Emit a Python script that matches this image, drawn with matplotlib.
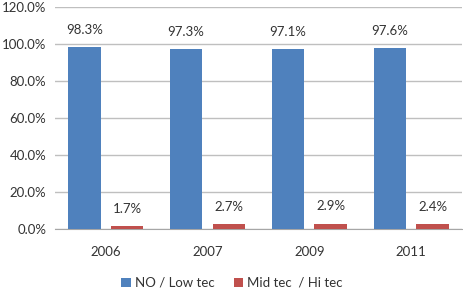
import numpy as np
import matplotlib.pyplot as plt

years = ["2006", "2007", "2009", "2011"]
low_tec = [98.3, 97.3, 97.1, 97.6]
hi_tec = [1.7, 2.7, 2.9, 2.4]
yticks = [0, 20, 40, 60, 80, 100, 120]

plt.rcParams['font.family'] = ['Lato', 'DejaVu Sans']
fig = plt.figure(figsize=(4.64, 3.02), dpi=100)
ax = fig.add_axes([0.118, 0.242, 0.878, 0.735])

x = np.arange(len(years))
w = 0.32
off = 0.21
b1 = ax.bar(x - off, low_tec, w, color='#4F81BD', label='NO / Low tec', zorder=3)
b2 = ax.bar(x + off, hi_tec, w, color='#C0504D', label='Mid tec  / Hi tec', zorder=3)

for rects, vals in ((b1, low_tec), (b2, hi_tec)):
    for r, v in zip(rects, vals):
        ax.annotate(f"{v:.1f}%", (r.get_x() + r.get_width() / 2, v),
                    xytext=(0, 8), textcoords='offset points',
                    ha='center', va='bottom', fontsize=9.5, color='#333333')

ax.set_xlim(-0.5, len(years) - 0.5)
ax.set_ylim(0, 120)
ax.set_yticks(yticks)
ax.set_yticklabels([f"{t:.1f}%" for t in yticks])
ax.set_xticks(x)
ax.set_xticklabels(years)
ax.tick_params(axis='both', length=0, labelsize=9.5, colors='#333333')
ax.tick_params(axis='x', pad=12)
ax.tick_params(axis='y', pad=6)
ax.yaxis.grid(True, color='#BFBFBF', linewidth=1, zorder=0)
for s in ('top', 'right', 'left'):
    ax.spines[s].set_visible(False)
ax.spines['bottom'].set_color('#A6A6A6')

fig.legend(loc='center', bbox_to_anchor=(0.5, 0.063), ncol=2, frameon=False,
           fontsize=9.5, handlelength=0.7, handleheight=0.7, handletextpad=0.3,
           columnspacing=1.5, labelcolor='#333333')

fig.savefig('out.png', dpi=100)
